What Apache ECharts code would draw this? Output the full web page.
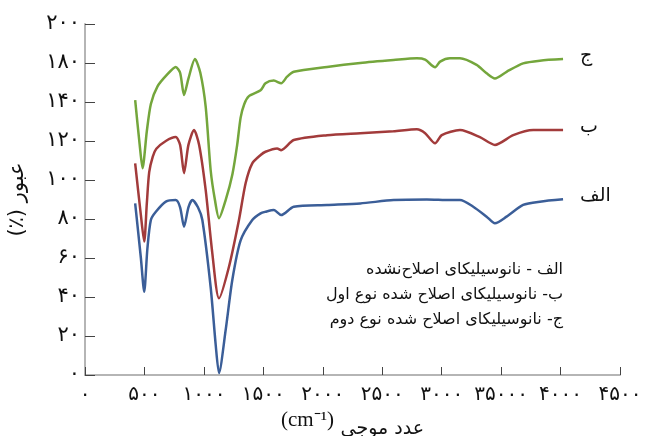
<!DOCTYPE html>
<html>
<head>
<meta charset="utf-8">
<script src="https://cdn.jsdelivr.net/npm/echarts@6/dist/echarts.min.js"></script>
<style>html,body{margin:0;padding:0;background:#fff;}#c{width:646px;height:436px;}</style>
</head>
<body>
<div id="c"></div>
<script>
// Tick labels as printed on the figure (y positions 0..180 step 20)
const yTickLabels = ['۰','۲۰','۴۰','۶۰','۸۰','۱۰۰','۱۲۰','۱۴۰','۱۸۰','۲۰۰'];
const xTickLabels = ['۰','۵۰۰','۱۰۰۰','۱۵۰۰','۲۰۰۰','۲۵۰۰','۳۰۰۰','۳۵۰۰۰','۴۰۰۰','۴۵۰۰'];

const seriesNames = ['الف', 'ب', 'ج'];
const legendLines = [
  'الف - نانوسیلیکای اصلاح‌نشده',
  'ب- نانوسیلیکای اصلاح شده نوع اول',
  'ج- نانوسیلیکای اصلاح شده نوع دوم'
];
const yAxisName = '(٪) عبور';
const xAxisUnit = '(cm⁻¹)';
const xAxisWord = 'عدد موجی';

// Series A (blue)
const aX = [422,470,498,525,554,596,680,763,800,833,870,903,950,987,1057,1100,1127,1183,1239,1309,1407,1477,1518,1588,1650,1756,2036,2315,2595,2875,3070,3154,3266,3378,3448,3546,3685,3826,4021];
const aY = [88,60,42.7,65,79.5,83.7,88.9,89.7,86,76,86,89.7,86,79.5,45,15,1,23,48.7,69,79.5,82.9,83.7,84.6,82,86.3,87.2,88,89.7,90,89.7,89.8,86.3,81.2,77.8,81.2,87.2,88.9,90.1];
// Series B (red)
const bX = [422,470,498,520,540,570,600,680,763,800,833,870,917,960,1015,1071,1127,1211,1295,1351,1407,1477,1518,1616,1650,1756,2036,2315,2595,2791,2861,2945,3001,3154,3322,3448,3602,3770,4021];
const bY = [108.5,82,68.4,88,104,112,116,120,122,118,103.5,118,125.6,118,94.9,62.4,39.3,55.5,79.5,98.3,108.5,112.8,114.5,116.2,115.3,120.5,123,124,125,126,124,118.8,123,125.6,122,118,123,125.6,125.6];
// Series C (green)
const cX = [422,460,484,520,554,610,690,763,800,833,870,925,970,1015,1057,1093,1127,1183,1240,1280,1309,1340,1379,1477,1518,1588,1650,1700,1756,2036,2315,2595,2791,2861,2945,2987,3070,3154,3294,3378,3448,3546,3685,3826,4021];
const cY = [141,118,106,125,139,148,154,158,155,143.6,152,162,155,137.6,105,89.7,80.4,89.7,103,118,132,139,143,146,149.6,151,149.6,153,155.5,158,160,161.5,162.4,161.7,157.8,160.7,162.4,162.4,159,154.7,152.1,155.5,159.8,161.2,162];

const zip = (xs, ys) => xs.map((x, i) => [x, ys[i]]);
const colors = ['#3b5e98', '#a23b3b', '#74a63c'];
const datas = [zip(aX, aY), zip(bX, bY), zip(cX, cY)];
const arabicFont = 'DejaVu Sans';

const chart = echarts.init(document.getElementById('c'));
chart.setOption({
  animation: false,
  backgroundColor: '#ffffff',
  grid: { left: 85, right: 26, top: 24, bottom: 61, containLabel: false, outerBoundsMode: 'none' },
  xAxis: {
    type: 'value', min: 0, max: 4500, interval: 500,
    name: '{u|' + xAxisUnit + '}  {w|' + xAxisWord + '}',
    nameLocation: 'middle', nameGap: 35,
    nameTextStyle: {
      rich: {
        u: { fontFamily: 'Liberation Serif', fontSize: 21, color: '#111', padding: [0, 0, 8, 0] },
        w: { fontFamily: arabicFont, fontSize: 19, color: '#111', verticalAlign: 'bottom' }
      }
    },
    axisLine: { lineStyle: { color: '#b5b5b5', width: 2 } },
    axisTick: { inside: true, length: 8, lineStyle: { color: '#444', width: 1 } },
    splitLine: { show: false },
    axisLabel: {
      fontFamily: arabicFont, fontSize: 20, color: '#111', margin: 10,
      formatter: (v) => xTickLabels[Math.round(v / 500)] || ''
    }
  },
  yAxis: {
    type: 'value', min: 0, max: 180, interval: 20,
    name: yAxisName, nameLocation: 'middle', nameGap: 57, nameRotate: 90,
    nameTextStyle: { fontFamily: arabicFont, fontSize: 21, color: '#111' },
    axisLine: { show: true, lineStyle: { color: '#b5b5b5', width: 2 } },
    axisTick: { show: true, inside: true, length: 10, lineStyle: { color: '#444', width: 1 } },
    splitLine: { show: false },
    axisLabel: {
      fontFamily: arabicFont, fontSize: 21, color: '#111', margin: 5,
      formatter: (v) => yTickLabels[Math.round(v / 20)] || ''
    }
  },
  series: datas.map((d, i) => ({
    type: 'line',
    name: seriesNames[i],
    data: d,
    smooth: 0.25,
    symbol: 'none',
    lineStyle: { color: colors[i], width: 2.5 },
    endLabel: {
      show: true,
      formatter: (p) => p.seriesName,
      fontFamily: arabicFont, fontSize: 19, color: '#111',
      offset: [9, -3]
    }
  })),
  graphic: legendLines.map((t, i) => ({
    type: 'text',
    right: 646 - 563,
    top: 262 + i * 25,
    style: { text: t, font: '16px "' + arabicFont + '"', fill: '#111', textAlign: 'right' }
  }))
});
</script>
</body>
</html>
